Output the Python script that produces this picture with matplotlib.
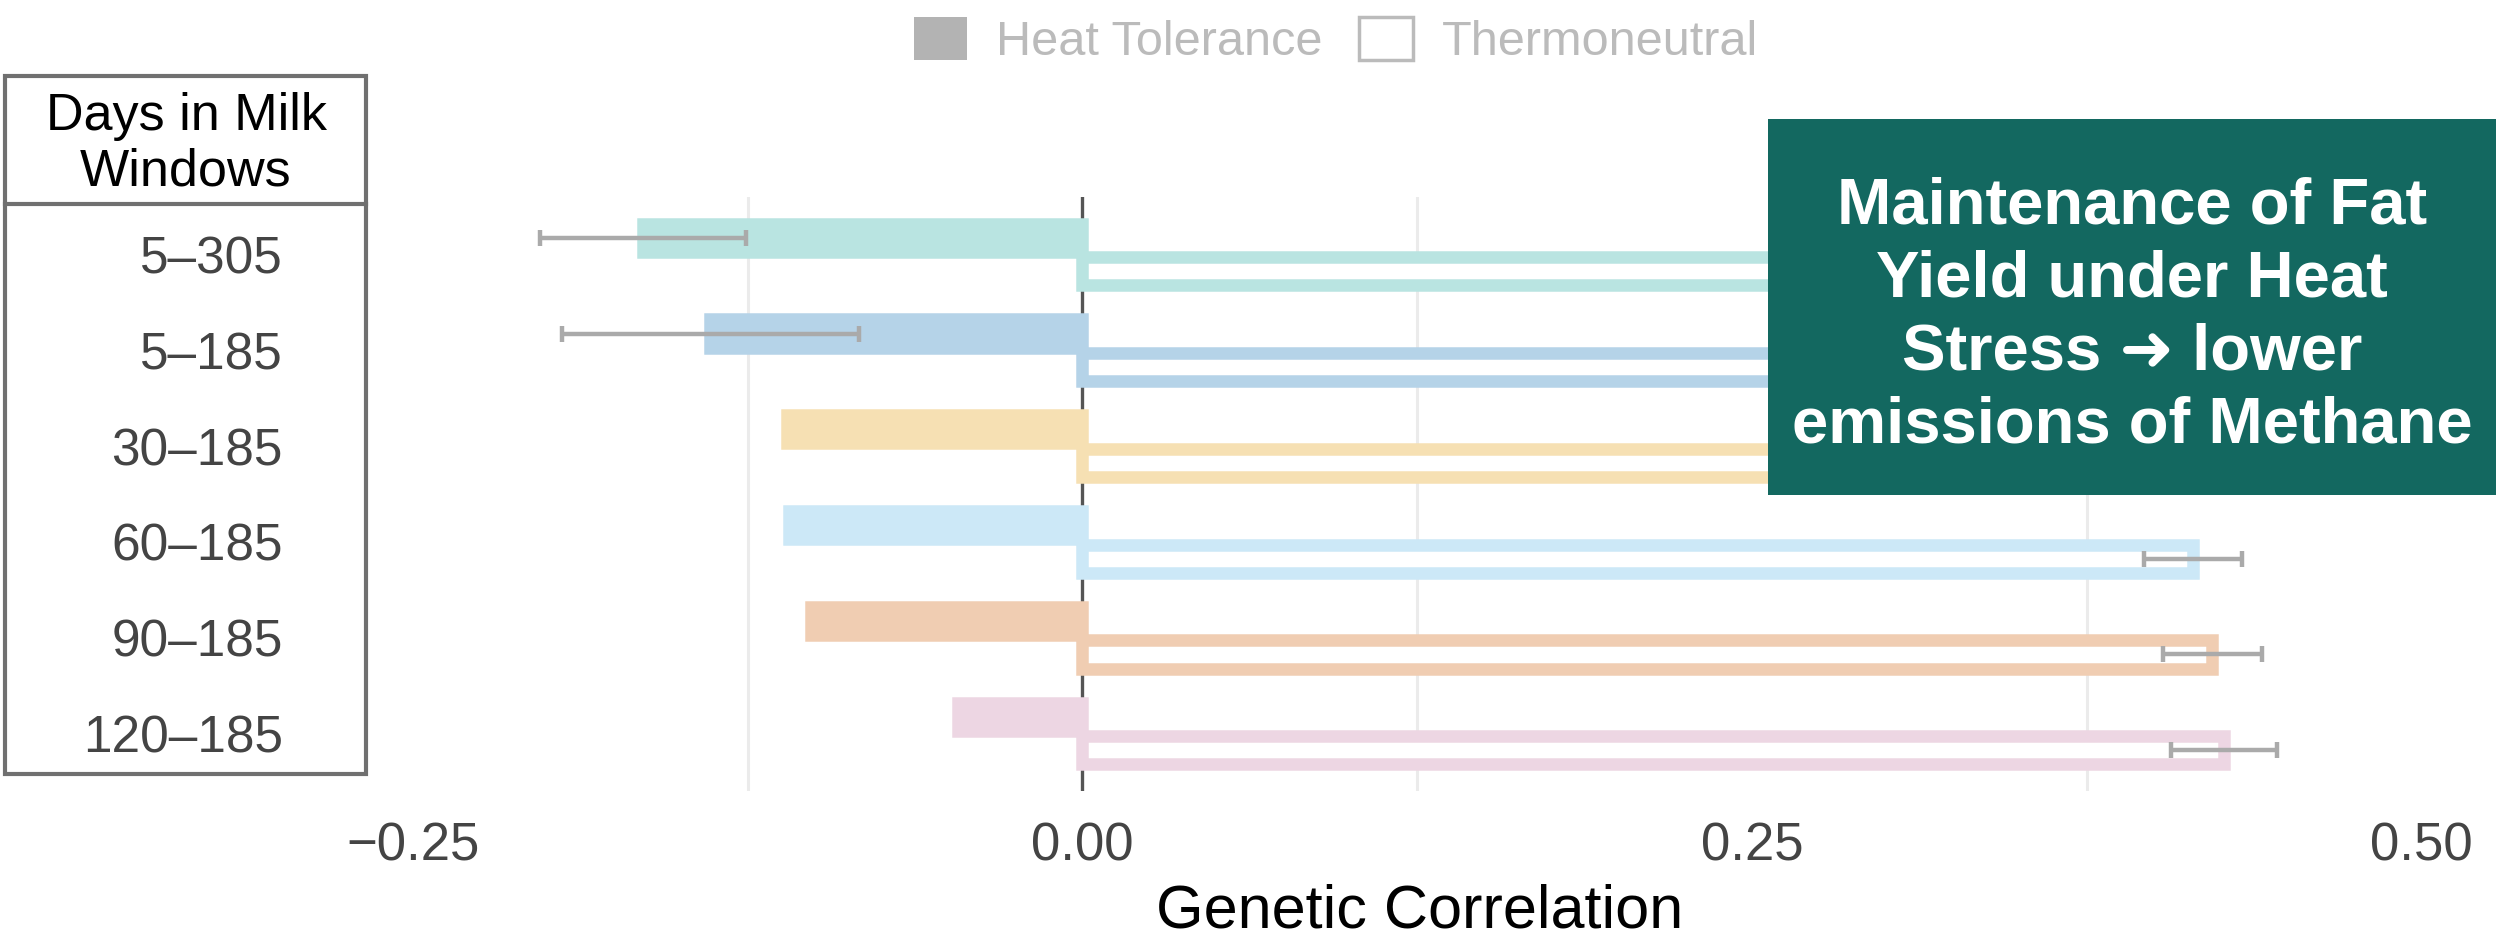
import numpy as np
import matplotlib
matplotlib.use("Agg")
import matplotlib.pyplot as plt
from matplotlib.patches import Rectangle, Patch

plt.rcParams['font.family'] = ['Liberation Sans', 'DejaVu Sans']

# data
windows = ["5–305", "5–185", "30–185", "60–185", "90–185", "120–185"]
heat_tol = [-0.164, -0.139, -0.1105, -0.1097, -0.1012, -0.0464]
heat_err = [0.0384, 0.0554, None, None, None, None]
thermo = [0.40, 0.41, 0.41, 0.4147, 0.4219, 0.4261]
thermo_err = [0.02, 0.02, 0.02, 0.0183, 0.0186, 0.0198]
colors = ["#b9e4e1", "#b5d3e8", "#f6e0b3", "#cce8f7", "#f0cdb2", "#edd6e3"]

major_ticks = [-0.25, 0.0, 0.25, 0.50]
major_labels = ["−0.25", "0.00", "0.25", "0.50"]
grid_ticks = [-0.125, 0.125, 0.375]

W, H = 2496, 936
fig = plt.figure(figsize=(W / 100, H / 100), dpi=100)
ax = fig.add_axes([380 / W, 1 - 791 / H, (2470 - 380) / W, (791 - 197) / H])

y = np.arange(len(windows))
off = 0.175
h = 0.295
lw = 9

ax.axvline(0, color="#555555", lw=2.4, zorder=1)
ax.barh(y - off, heat_tol, height=h, color=colors, edgecolor=colors, linewidth=lw, zorder=2)
ax.barh(y + off, thermo, height=h, facecolor="white", edgecolor=colors, linewidth=lw, zorder=2)

idx = [i for i, e in enumerate(heat_err) if e is not None]
ax.errorbar([heat_tol[i] for i in idx], [y[i] - off for i in idx],
            xerr=[heat_err[i] for i in idx], fmt="none", ecolor="#aaaaaa",
            elinewidth=3.2, capsize=5.5, capthick=3.2, zorder=3)
ax.errorbar(thermo, y + off, xerr=thermo_err, fmt="none", ecolor="#aaaaaa",
            elinewidth=3.2, capsize=5.5, capthick=3.2, zorder=3)

ax.set_xlim(-0.2623, 0.5181)
ax.set_ylim(5.6, -0.6)
ax.set_xticks(major_ticks)
ax.set_xticklabels(major_labels)
ax.set_xticks(grid_ticks, minor=True)
ax.grid(which="minor", axis="x", color="#ebebeb", lw=2.2, zorder=0)
ax.set_axisbelow(True)
ax.set_yticks(y)
ax.set_yticklabels(windows)
ax.tick_params(axis="x", which="both", length=0, pad=22, labelsize=38, labelcolor="#444444")
ax.tick_params(axis="y", length=0, pad=70, labelsize=37, labelcolor="#444444")
for s in ax.spines.values():
    s.set_visible(False)
ax.set_xlabel("Genetic Correlation", fontsize=44, color="black")
ax.xaxis.label.set_va("baseline")
ax.xaxis.set_label_coords((1420 - 380) / 2090, (9 - 145) / 594)

# box round the y labels, like a table
edge = "#707070"
fig.add_artist(Rectangle((5 / W, 1 - 774 / H), (366 - 5) / W, (774 - 76) / H,
                         transform=fig.transFigure, fill=False, edgecolor=edge, lw=3))
fig.add_artist(plt.Line2D([5 / W, 366 / W], [1 - 204 / H, 1 - 204 / H],
                          transform=fig.transFigure, color=edge, lw=3))
fig.text(186 / W, 1 - 186 / H, "Days in Milk\nWindows", ha="center", va="baseline",
         fontsize=37.5, color="black", linespacing=1.18)

# legend on top
handles = [Patch(facecolor="#b3b3b3", edgecolor="#b3b3b3", lw=0),
           Patch(facecolor="white", edgecolor="#bbbbbb", lw=2.5)]
leg = fig.legend(handles, ["Heat Tolerance", "Thermoneutral"], loc="center",
                 bbox_to_anchor=(1336 / W, 1 - 41 / H), ncol=2, frameon=False,
                 fontsize=35, handlelength=1.1, handleheight=1.0,
                 handletextpad=0.6, columnspacing=0.75)
for t in leg.get_texts():
    t.set_color("#bbbbbb")

# green call-out box
fig.add_artist(Rectangle((1768 / W, 1 - 495 / H), (W - 1768) / W, (495 - 119) / H,
                         transform=fig.transFigure, facecolor="#136860", edgecolor="none"))
fig.text(2132 / W, 1 - 316 / H,
         "Maintenance of Fat\nYield under Heat\nStress ➜ lower\nemissions of Methane",
         ha="center", va="center", fontsize=47, fontweight="bold", color="white",
         linespacing=1.28)

fig.savefig("out.png", dpi=100)
